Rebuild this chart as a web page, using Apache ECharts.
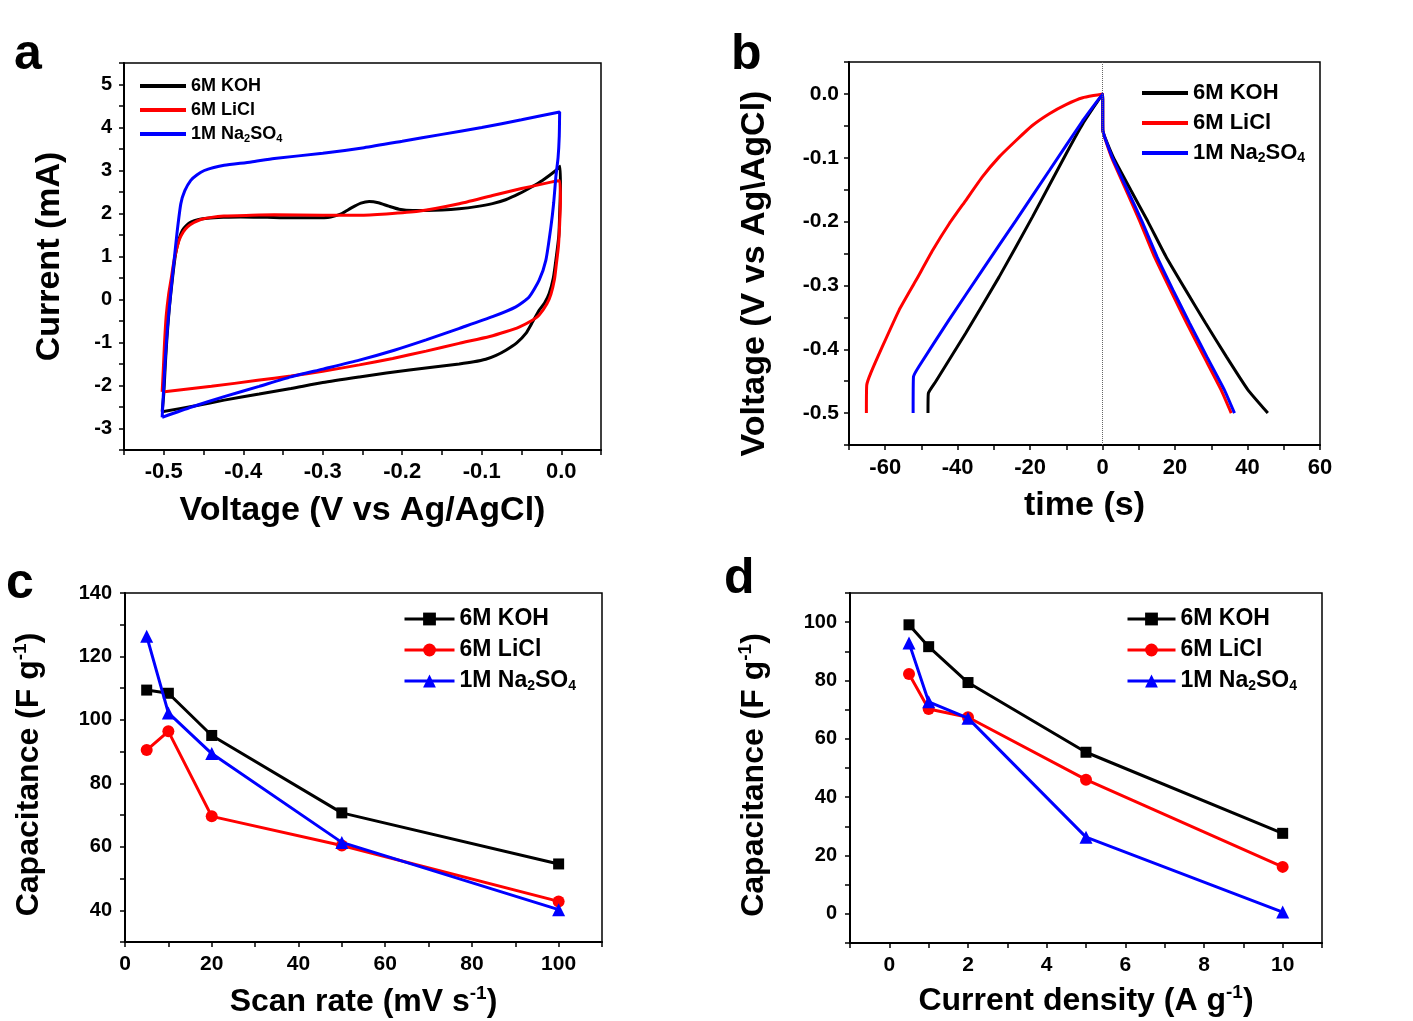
<!DOCTYPE html>
<html><head><meta charset="utf-8">
<script src="https://cdn.jsdelivr.net/npm/echarts@6/dist/echarts.min.js"></script>
<style>html,body{margin:0;padding:0;background:#fff}#chart{width:1413px;height:1021px}</style>
</head><body><div id="chart"></div>
<script>
// ---------- Panel a : cyclic voltammetry [V vs Ag/AgCl, mA] ----------
const cvKOH = [[-0.502,-2.61],[-0.500,-2.2],[-0.498,-1.5],[-0.496,-0.9],[-0.493,-0.2],[-0.489,0.5],[-0.485,1.07],[-0.4805,1.42],[-0.4765,1.61],[-0.471,1.73],[-0.466,1.80],[-0.456,1.86],[-0.445,1.89],[-0.425,1.91],[-0.403,1.92],[-0.37,1.91],[-0.34,1.90],[-0.31,1.90],[-0.29,1.92],[-0.276,2.00],[-0.264,2.13],[-0.252,2.24],[-0.2416,2.28],[-0.23,2.25],[-0.217,2.17],[-0.204,2.10],[-0.187,2.07],[-0.170,2.07],[-0.15,2.08],[-0.1284,2.11],[-0.107,2.16],[-0.0865,2.23],[-0.07,2.32],[-0.053,2.46],[-0.038,2.61],[-0.0237,2.77],[-0.0068,3.0],[-0.0015,3.1],
  [-0.001,2.6],[-0.002,2.0],[-0.003,1.5],[-0.0068,0.91],[-0.010,0.5],[-0.0152,0.14],[-0.021,-0.08],[-0.0278,-0.25],[-0.036,-0.52],[-0.0445,-0.79],[-0.056,-1.01],[-0.0697,-1.18],[-0.082,-1.30],[-0.095,-1.39],[-0.11,-1.45],[-0.1284,-1.50],[-0.16,-1.57],[-0.191,-1.64],[-0.22,-1.71],[-0.254,-1.80],[-0.30,-1.93],[-0.34,-2.07],[-0.38,-2.20],[-0.424,-2.34],[-0.46,-2.47],[-0.502,-2.61]];
const cvLiCl = [[-0.502,-2.15],[-0.5005,-1.6],[-0.499,-1.0],[-0.497,-0.4],[-0.494,0.1],[-0.4905,0.5],[-0.487,0.91],[-0.4806,1.38],[-0.4755,1.57],[-0.4701,1.69],[-0.462,1.79],[-0.4534,1.86],[-0.44,1.91],[-0.4245,1.94],[-0.39,1.96],[-0.361,1.97],[-0.30,1.96],[-0.254,1.96],[-0.22,1.99],[-0.18,2.05],[-0.13,2.22],[-0.0865,2.42],[-0.05,2.58],[-0.013,2.73],[-0.002,2.76],
  [-0.001,2.3],[-0.002,1.75],[-0.0035,1.25],[-0.0063,0.8],[-0.0085,0.47],[-0.013,0.12],[-0.018,-0.10],[-0.0278,-0.36],[-0.038,-0.50],[-0.053,-0.64],[-0.07,-0.75],[-0.09,-0.86],[-0.1285,-1.02],[-0.17,-1.20],[-0.212,-1.37],[-0.254,-1.52],[-0.30,-1.67],[-0.34,-1.78],[-0.382,-1.88],[-0.44,-2.02],[-0.502,-2.15]];
const cvNa2SO4 = [[-0.502,-2.74],[-0.5005,-2.2],[-0.4985,-1.5],[-0.4953,-0.64],[-0.491,0.2],[-0.487,0.91],[-0.483,1.6],[-0.4785,2.23],[-0.4735,2.53],[-0.466,2.77],[-0.458,2.9],[-0.449,3.0],[-0.437,3.07],[-0.424,3.12],[-0.39,3.2],[-0.361,3.28],[-0.30,3.40],[-0.248,3.53],[-0.2,3.68],[-0.15,3.84],[-0.1,4.0],[-0.05,4.18],[-0.002,4.36],
  [-0.0025,3.8],[-0.004,3.3],[-0.0068,2.85],[-0.0095,2.25],[-0.013,1.69],[-0.0194,0.91],[-0.0278,0.45],[-0.0404,0.06],[-0.0571,-0.17],[-0.0865,-0.40],[-0.128,-0.67],[-0.170,-0.94],[-0.21,-1.18],[-0.254,-1.41],[-0.30,-1.62],[-0.340,-1.80],[-0.38,-2.02],[-0.424,-2.26],[-0.465,-2.5],[-0.502,-2.74]];

// ---------- Panel b : galvanostatic charge/discharge [s, V vs Ag\AgCl] ----------
const gcdKOH = [[-48.2,-0.5],[-48.1,-0.469],[-46.1,-0.451],[-37.8,-0.375],[-28.6,-0.287],[-19.4,-0.193],[-10.1,-0.094],[-5.5,-0.047],[0,0],
  [0.05,-0.057],[3,-0.1],[7.8,-0.151],[12.5,-0.2],[17.5,-0.255],[22.9,-0.307],[28.4,-0.359],[34.2,-0.412],[40.1,-0.4636],[45.6,-0.5]];
const gcdLiCl = [[-65.2,-0.5],[-65.1,-0.456],[-64.0,-0.4375],[-60.8,-0.396],[-56.2,-0.339],[-51.5,-0.292],[-46.9,-0.245],[-42.3,-0.203],[-37.8,-0.167],[-33.2,-0.130],[-28.6,-0.099],[-23.9,-0.073],[-19.4,-0.0495],[-14.7,-0.031],[-10.1,-0.0167],[-5.5,-0.006],[0,0],
  [0.05,-0.057],[2.5,-0.1],[6.5,-0.151],[10.3,-0.2],[14.3,-0.255],[18.7,-0.307],[23.2,-0.359],[28,-0.412],[32.7,-0.4636],[35.5,-0.5]];
const gcdNa2SO4 = [[-52.3,-0.5],[-52.2,-0.443],[-50.7,-0.427],[-42.4,-0.354],[-33.2,-0.276],[-23.9,-0.198],[-14.7,-0.120],[-5.5,-0.042],[0,0],
  [0.05,-0.057],[2.7,-0.1],[6.9,-0.151],[10.9,-0.2],[15.0,-0.255],[19.4,-0.307],[24.0,-0.359],[28.8,-0.412],[33.6,-0.4636],[36.4,-0.5]];
const refTime = 0;

// ---------- Panel c : capacitance vs scan rate ----------
const scanRates = [5, 10, 20, 50, 100];
const capScanKOH = [109.4, 108.4, 95.1, 70.7, 54.6];
const capScanLiCl = [90.5, 96.4, 69.6, 60.4, 42.8];
const capScanNa2SO4 = [126.4, 102.2, 89.4, 61.4, 40.2];

// ---------- Panel d : capacitance vs current density ----------
const currentDensities = [0.5, 1, 2, 5, 10];
const capCurKOH = [99.1, 91.6, 79.3, 55.4, 27.6];
const capCurLiCl = [82.2, 70.2, 67.4, 46.0, 16.1];
const capCurNa2SO4 = [92.9, 72.7, 67.1, 26.3, 0.6];

const legendLabels = ['6M KOH', '6M LiCl', '1M Na{sub|2}SO{sub|4}'];
const seriesKeys = ['KOH', 'LiCl', 'Na2SO4'];
const colors = ['#000000', '#ff0000', '#0000ff'];
const symbols = ['rect', 'circle', 'triangle'];
const symbolSizes = [11, 12, 13];

const FONT = '"Liberation Sans", Arial, Helvetica, sans-serif';
const LABELS = {};
['a','b','c','d'].forEach(p => seriesKeys.forEach((k, i) => { LABELS[k + '_' + p] = legendLabels[i]; }));

function isStep(v, step) { const k = v / step; return Math.abs(k - Math.round(k)) < 1e-6; }

function mkAxis(o) {
  return {
    type: 'value', gridIndex: o.grid, min: o.min, max: o.max, interval: o.interval,
    axisLine: { show: true, onZero: false, lineStyle: { color: '#000', width: 2 } },
    axisTick: { show: true, inside: false, length: 5, lineStyle: { color: '#000', width: 1.5 } },
    axisLabel: {
      show: true, margin: o.margin, color: '#000', fontFamily: FONT, fontWeight: 'bold', fontSize: o.labelSize,
      formatter: v => isStep(v, o.labelStep) ? o.fmt(v) : ''
    },
    splitLine: { show: false },
    name: o.name, nameLocation: 'middle', nameGap: o.nameGap, nameRotate: o.rotate || 0,
    nameTextStyle: {
      color: '#000', fontFamily: FONT, fontWeight: 'bold', fontSize: o.nameSize, lineHeight: o.nameSize + 4,
      padding: o.namePad || 0,
      rich: { sup: { fontSize: Math.round(o.nameSize * 0.6), lineHeight: Math.round(o.nameSize * 0.6), verticalAlign: 'top', fontFamily: FONT, fontWeight: 'bold', color: '#000' } }
    }
  };
}

function mkLegend(o) {
  const lg = {
    show: true, orient: 'vertical', left: o.left, top: o.top, padding: 0,
    itemWidth: o.iw, itemHeight: o.ih, itemGap: o.gap, selectedMode: false,
    data: seriesKeys.map(k => k + '_' + o.panel),
    formatter: n => LABELS[n],
    lineStyle: { width: 3 },
    textStyle: {
      color: '#000', fontFamily: FONT, fontWeight: 'bold', fontSize: o.fs, lineHeight: o.lh,
      rich: { sub: { fontSize: Math.round(o.fs * 0.62), lineHeight: Math.round(o.fs * 0.62), verticalAlign: 'bottom', fontFamily: FONT, fontWeight: 'bold', color: '#000' } }
    }
  };
  if (o.icon) lg.icon = o.icon;
  return lg;
}

const fmt1 = v => (Math.abs(v) < 1e-9 ? 0 : v).toFixed(1);
const fmt0 = v => String(Math.round(v));

const grids = [
  { left: 124, top: 63, width: 477, height: 387 },
  { left: 849, top: 62, width: 471, height: 383 },
  { left: 125, top: 593, width: 477, height: 350 },
  { left: 850, top: 593, width: 472, height: 350 }
].map(g => Object.assign({ show: true, borderColor: '#000', borderWidth: 1.5, backgroundColor: 'transparent' }, g));

const xAxes = [
  mkAxis({ grid: 0, min: -0.55, max: 0.05, interval: 0.05, labelStep: 0.1, fmt: fmt1, labelSize: 22, margin: 11, name: 'Voltage (V vs Ag/AgCl)', nameGap: 42, nameSize: 34 }),
  mkAxis({ grid: 1, min: -70, max: 60, interval: 10, labelStep: 20, fmt: fmt0, labelSize: 22, margin: 12, name: 'time (s)', nameGap: 42, nameSize: 34 }),
  mkAxis({ grid: 2, min: 0, max: 110, interval: 10, labelStep: 20, fmt: fmt0, labelSize: 21, margin: 12, name: 'Scan rate (mV s{sup|-1})', nameGap: 42, nameSize: 32 }),
  mkAxis({ grid: 3, min: -1, max: 11, interval: 1, labelStep: 2, fmt: fmt0, labelSize: 21, margin: 12, name: 'Current density (A g{sup|-1})', nameGap: 40, nameSize: 32 })
];
const yAxes = [
  mkAxis({ grid: 0, min: -3.5, max: 5.5, interval: 0.5, labelStep: 1, fmt: fmt0, labelSize: 20, margin: 12, name: 'Current (mA)', nameGap: 55, nameSize: 34, rotate: 90 }),
  mkAxis({ grid: 1, min: -0.55, max: 0.05, interval: 0.05, labelStep: 0.1, fmt: fmt1, labelSize: 21, margin: 10, name: 'Voltage (V vs Ag\\AgCl)', nameGap: 75, nameSize: 34, rotate: 90, namePad: [0, 40, 0, 0] }),
  mkAxis({ grid: 2, min: 30, max: 140, interval: 10, labelStep: 20, fmt: fmt0, labelSize: 20, margin: 13, name: 'Capacitance (F g{sup|-1})', nameGap: 78, nameSize: 32, rotate: 90, namePad: [0, 14, 0, 0] }),
  mkAxis({ grid: 3, min: -10, max: 110, interval: 10, labelStep: 20, fmt: fmt0, labelSize: 20, margin: 13, name: 'Capacitance (F g{sup|-1})', nameGap: 78, nameSize: 32, rotate: 90, namePad: [0, 14, 0, 0] })
];

function curve(name, gi, data, ci, smooth) {
  return { type: 'line', name, xAxisIndex: gi, yAxisIndex: gi, data, symbol: 'none', showSymbol: false,
    smooth: smooth, lineStyle: { color: colors[ci], width: 3 }, itemStyle: { color: colors[ci] }, z: 2 + ci };
}
function points(name, gi, xs, ys, ci) {
  return { type: 'line', name, xAxisIndex: gi, yAxisIndex: gi, data: xs.map((x, i) => [x, ys[i]]),
    symbol: symbols[ci], symbolSize: symbolSizes[ci], showSymbol: true,
    lineStyle: { color: colors[ci], width: 3 }, itemStyle: { color: colors[ci] }, z: 2 + ci };
}

const series = [
  curve('KOH_a', 0, cvKOH, 0, 0.2),
  curve('LiCl_a', 0, cvLiCl, 1, 0.2),
  curve('Na2SO4_a', 0, cvNa2SO4, 2, 0.2),
  Object.assign(curve('KOH_b', 1, gcdKOH, 0, 0.12), {
    markLine: { silent: true, symbol: ['none', 'none'], label: { show: false },
      lineStyle: { type: 'dotted', color: '#666', width: 1 }, data: [{ xAxis: refTime }] }
  }),
  curve('LiCl_b', 1, gcdLiCl, 1, 0.12),
  curve('Na2SO4_b', 1, gcdNa2SO4, 2, 0.12),
  points('KOH_c', 2, scanRates, capScanKOH, 0),
  points('LiCl_c', 2, scanRates, capScanLiCl, 1),
  points('Na2SO4_c', 2, scanRates, capScanNa2SO4, 2),
  points('KOH_d', 3, currentDensities, capCurKOH, 0),
  points('LiCl_d', 3, currentDensities, capCurLiCl, 1),
  points('Na2SO4_d', 3, currentDensities, capCurNa2SO4, 2)
];

const legends = [
  mkLegend({ panel: 'a', left: 140, top: 76, iw: 46, ih: 4, gap: 4, fs: 18, lh: 20, icon: 'rect' }),
  mkLegend({ panel: 'b', left: 1142, top: 81, iw: 46, ih: 4, gap: 6, fs: 22, lh: 24, icon: 'rect' }),
  mkLegend({ panel: 'c', left: 403, top: 607, iw: 50, ih: 16, gap: 7, fs: 23, lh: 24 }),
  mkLegend({ panel: 'd', left: 1126, top: 607, iw: 48, ih: 16, gap: 7, fs: 23, lh: 24 })
];

const letters = [['a', 14, 55], ['b', 731, 55], ['c', 6, 584], ['d', 724, 579]];
const graphic = letters.map(([t, x, y]) => ({
  type: 'text', x, y, silent: true,
  style: { text: t, fill: '#000', font: 'bold 50px ' + FONT, verticalAlign: 'middle', align: 'left' }
}));

const chart = echarts.init(document.getElementById('chart'), null, { renderer: 'canvas' });
chart.setOption({
  animation: false, backgroundColor: '#ffffff',
  grid: grids, xAxis: xAxes, yAxis: yAxes, legend: legends, series, graphic
});
</script></body></html>
